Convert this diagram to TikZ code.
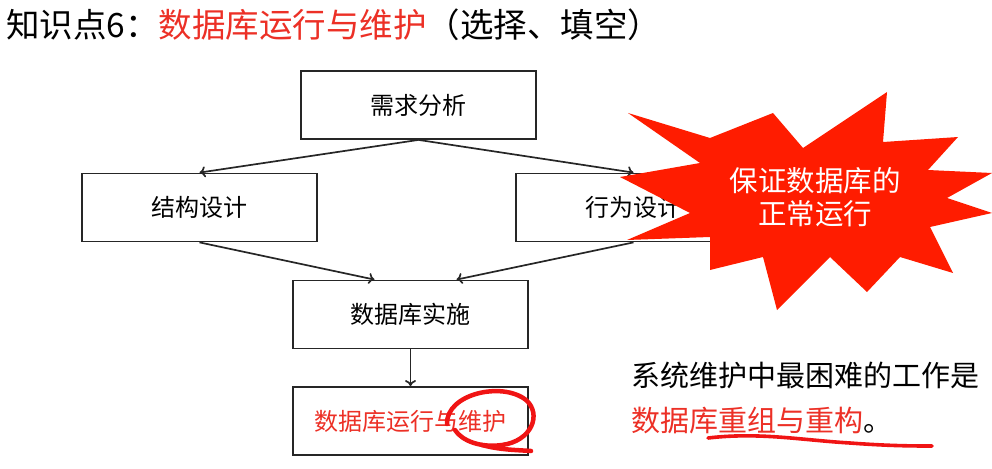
\documentclass[tikz,border=0pt]{standalone}
\usepackage{fontspec}
\setmainfont{Noto Sans CJK SC}
\usetikzlibrary{arrows.meta}
\definecolor{txtred}{RGB}{236,48,38}
\definecolor{starred}{RGB}{255,28,0}
\definecolor{inkred}{RGB}{240,20,20}
\tikzset{
  box/.style={draw=black!85, line width=1.8pt, minimum width=235pt, minimum height=68pt, inner sep=0pt, font=\fontsize{24}{28}\selectfont},
  conn/.style={draw=black!85, line width=1.7pt, -{To[length=6pt,width=11pt]}},
  ink/.style={draw=inkred, line width=4.5pt, line cap=round, line join=round},
}
\begin{document}
\begin{tikzpicture}[x=1pt,y=-1pt]
\useasboundingbox (0,0) rectangle (992,468);
% title
\node[anchor=west, inner sep=0pt, font=\fontsize{33.5}{38}\selectfont] (title) at (6,25)
  {知识点6：\textcolor{txtred}{数据库运行与维护}（选择、填空）};
% boxes
\node[box] (req) at (418.5,105) {需求分析};
\node[box] (struct) at (199.5,207.5) {结构设计};
\node[box] (behav) at (633.5,207.5) {行为设计};
\node[box] (impl) at (410.5,314.5) {数据库实施};
\node[box, text=txtred] (run) at (410.5,421) {数据库运行与维护};
% connectors
\draw[conn] (req.south) -- (struct.north);
\draw[conn] (req.south) -- (behav.north);
\draw[conn] (struct.south) -- ([xshift=-36pt]impl.north);
\draw[conn] (behav.south) -- ([xshift=46pt]impl.north);
\draw[conn] (impl.south) -- (run.north);
% starburst
\fill[starred] (628,113) -- (710,138) -- (773,113) -- (803,148) -- (887,92) -- (883,142)
  -- (958,137) -- (928,170) -- (992,173) -- (947,198) -- (992,213) -- (930,227)
  -- (953,273) -- (900,257) -- (867,292) -- (830,257) -- (777,310) -- (763,257)
  -- (710,270) -- (710,237) -- (627,240) -- (690,213) -- (620,177) -- (700,163) -- cycle;
\node[text=white, align=center, font=\fontsize{28.5}{33}\selectfont, inner sep=0pt] (star) at (815,197)
  {保证数据库的\\正常运行};
% right text
\node[anchor=west, inner sep=0pt, font=\fontsize{29}{33}\selectfont] (note1) at (631,375) {系统维护中最困难的工作是};
\node[anchor=west, inner sep=0pt, font=\fontsize{29}{33}\selectfont] (note2) at (631,421) {\textcolor{txtred}{数据库重组与重构}。};
% hand drawn marks
\draw[ink] (447,424) .. controls (446,394) and (502,381) .. (526,400)
  .. controls (542,414) and (532,441) .. (502,445)
  .. controls (481,448) and (462,441) .. (455,430);
\draw[ink] (482,445) .. controls (500,450) and (518,450) .. (531,451);
\draw[ink, line width=3.6pt] (708,438) .. controls (760,432) and (800,440) .. (850,443)
  .. controls (890,446) and (915,446) .. (932,446);
\end{tikzpicture}
\end{document}
